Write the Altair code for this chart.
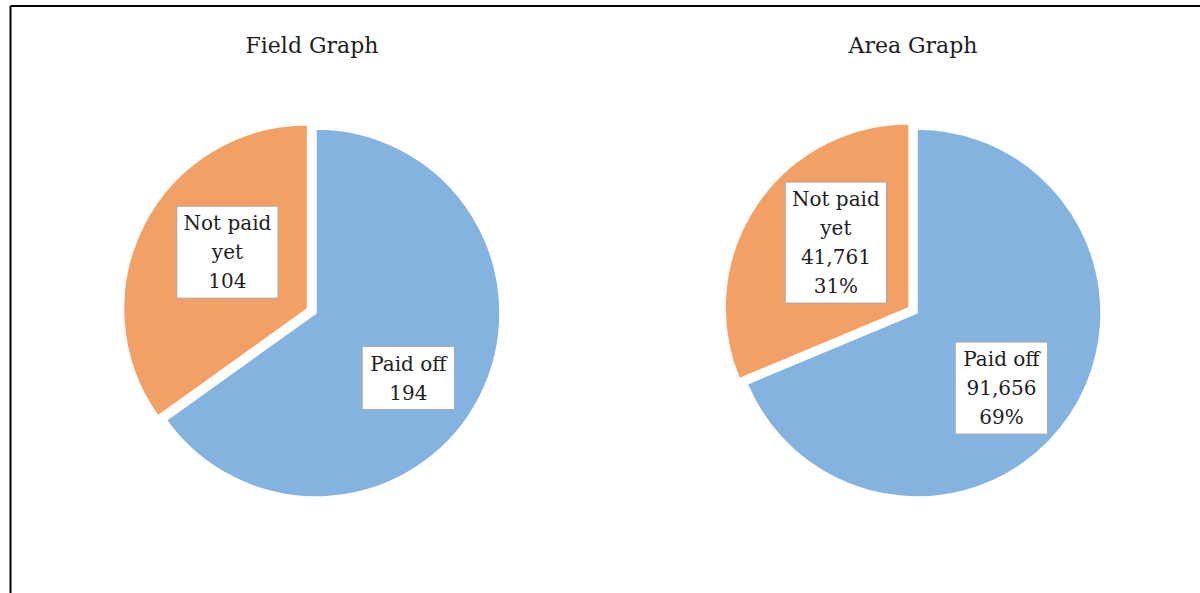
import json
import math
import textwrap

import altair as alt
import pandas as pd

# ---------------- data ----------------
graphs = ["Field Graph", "Area Graph"]
categories = ["Paid off", "Not paid yet"]
field_values = [194, 104]
area_values = [91656, 41761]
show_percent = [False, True]
exploded = ["Not paid yet"]

# ---------------- styles / layout ----------------
colors = ["#85B3E0", "#F2A065"]
W, H = 1200, 593
PIE_X0, PIE_DX, PIE_Y = 316, 601, 313
R = 184
EXPLODE = 9.5
NUDGE_DEG = 8
FONT = "DejaVu Serif"
LABEL_SIZE = 20
LINE_H = 29
TITLE_Y = 53
TITLE_DX = -4

# approximate DejaVu Serif advance widths (em) for box sizing
CHAR_W = {"N": .748, "o": .602, "t": .402, " ": .318, "p": .64, "a": .596,
          "i": .32, "d": .64, "y": .565, "e": .592, "P": .603, "f": .37,
          ",": .318, "%": .95}


def text_width(s):
    return sum(CHAR_W.get(ch, .636) for ch in s) * LABEL_SIZE


rows = []
for gi, (g, vals, pct) in enumerate(zip(graphs, [field_values, area_values], show_percent)):
    total = sum(vals)
    for ci, (c, v) in enumerate(zip(categories, vals)):
        lines = textwrap.wrap(c, 8) + [f"{v:,}"]
        if pct:
            lines.append(f"{round(100 * v / total)}%")
        rows.append(dict(graph=g, gi=gi, order=ci, category=c, value=v,
                         label="\n".join(lines), nlines=len(lines),
                         textw=max(text_width(l) for l in lines)))
df = pd.DataFrame(rows)

base = (
    alt.Chart(df)
    .transform_joinaggregate(total="sum(value)", groupby=["graph"])
    .transform_window(cum="sum(value)", groupby=["graph"],
                      sort=[alt.SortField("order")], frame=[None, 0])
    .transform_calculate(t1="datum.cum / datum.total")
    .transform_calculate(t0="(datum.cum - datum.value) / datum.total")
    .transform_calculate(mid="PI * (datum.t0 + datum.t1)")
    .transform_calculate(ex=f"indexof({json.dumps(exploded)}, datum.category) >= 0 ? {EXPLODE} : 0")
    .transform_calculate(cx=f"{PIE_X0} + datum.gi * {PIE_DX} + datum.ex * sin(datum.mid)")
    .transform_calculate(cy=f"{PIE_Y} - datum.ex * cos(datum.mid)")
    .transform_calculate(la=f"datum.mid + {NUDGE_DEG} * PI / 180")
    .transform_calculate(lr="datum.category == 'Paid off' ? 113 : 98")
    .transform_calculate(lx="datum.cx + datum.lr * sin(datum.la)")
    .transform_calculate(ly="datum.cy - datum.lr * cos(datum.la)")
    .transform_calculate(ty=f"datum.ly - (datum.nlines - 1) * {LINE_H} / 2 + 1")
    .transform_calculate(bw="datum.textw + 16")
    .transform_calculate(bh=f"datum.nlines * {LINE_H} + 5")
    .transform_calculate(bx0="datum.lx - datum.bw / 2")
    .transform_calculate(bx1="datum.lx + datum.bw / 2")
    .transform_calculate(by0="datum.ly - datum.bh / 2")
    .transform_calculate(by1="datum.ly + datum.bh / 2")
)

arcs = base.mark_arc(outerRadius=R, stroke="white", strokeWidth=1.5).encode(
    x=alt.X("cx:Q", scale=None, axis=None),
    y=alt.Y("cy:Q", scale=None, axis=None),
    theta=alt.Theta("t0:Q", scale=alt.Scale(domain=[0, 1], range=[0, 2 * math.pi]), stack=None),
    theta2="t1:Q",
    color=alt.Color("category:N", scale=alt.Scale(domain=categories, range=colors), legend=None),
)

boxes = base.mark_rect(fill="white", stroke="#A6A6A6", strokeWidth=1).encode(
    x=alt.X("bx0:Q", scale=None, axis=None),
    x2="bx1:Q",
    y=alt.Y("by0:Q", scale=None, axis=None),
    y2="by1:Q",
)

labels = base.mark_text(font=FONT, fontSize=LABEL_SIZE, lineBreak="\n", lineHeight=LINE_H,
                        align="center", baseline="middle", color="#1E1E1E").encode(
    x=alt.X("lx:Q", scale=None, axis=None),
    y=alt.Y("ty:Q", scale=None, axis=None),
    text="label:N",
)

titles = (
    alt.Chart(pd.DataFrame({"graph": graphs, "gi": list(range(len(graphs)))}))
    .transform_calculate(tx=f"{PIE_X0} + datum.gi * {PIE_DX} + {TITLE_DX}")
    .mark_text(font=FONT, fontSize=22, align="center", baseline="alphabetic", color="#1E1E1E")
    .encode(x=alt.X("tx:Q", scale=None, axis=None), y=alt.value(TITLE_Y), text="graph:N")
)

one = pd.DataFrame({"k": [0]})
left_border = alt.Chart(one).mark_rule(color="black", strokeWidth=2).encode(
    x=alt.value(10.5), y=alt.value(6), y2=alt.value(H))
top_border = alt.Chart(one).mark_rule(color="black", strokeWidth=2).encode(
    x=alt.value(10.5), x2=alt.value(W), y=alt.value(6))

chart = (
    alt.layer(left_border, top_border, arcs, boxes, labels, titles)
    .properties(width=W, height=H, padding=0, autosize=alt.AutoSizeParams(type="none"))
    .configure_view(stroke=None)
)

chart.save("out.html", embed_options={"renderer": "svg", "actions": False})
